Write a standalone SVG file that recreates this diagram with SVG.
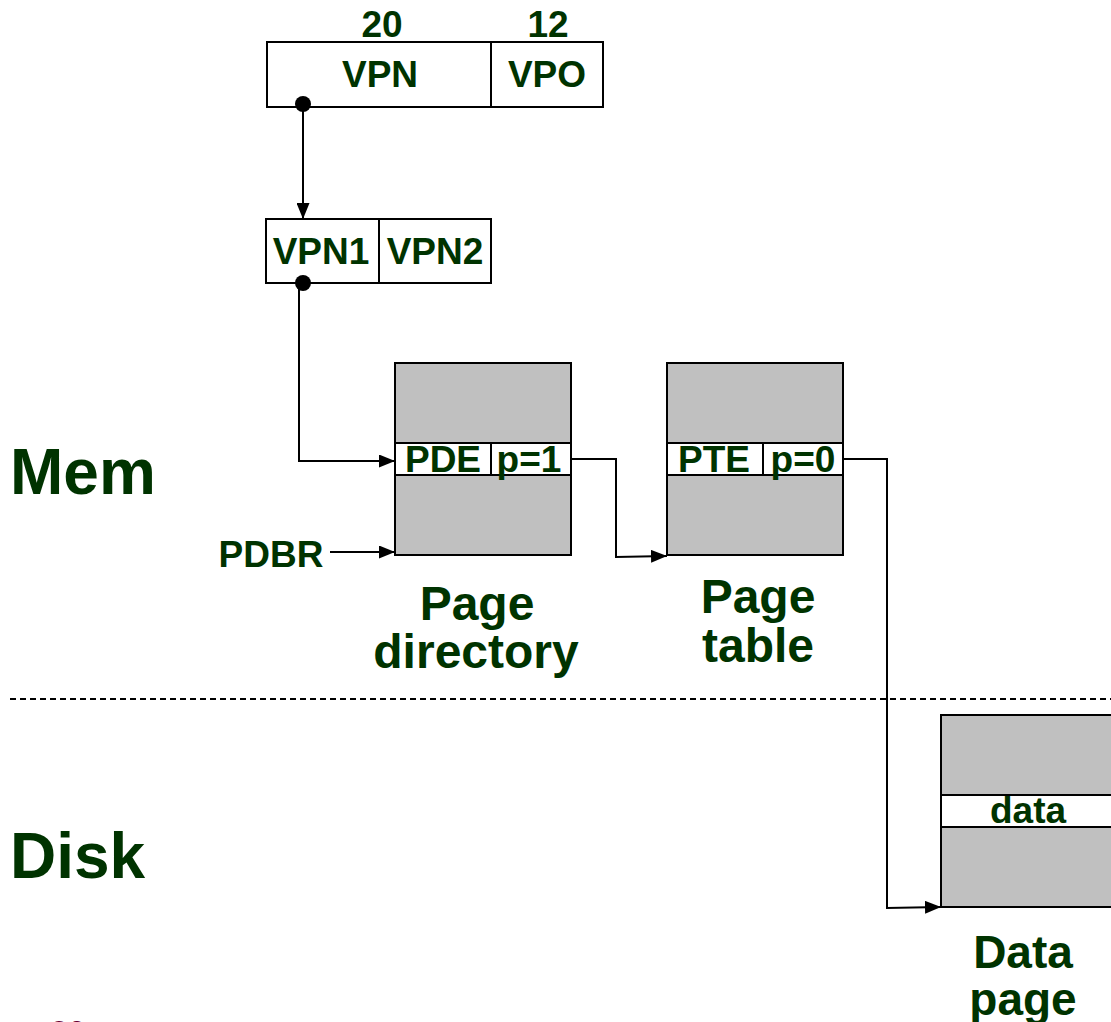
<svg xmlns="http://www.w3.org/2000/svg" width="1111" height="1022" viewBox="0 0 1111 1022">
<defs>
<marker id="ah" viewBox="0 0 16 13" refX="16" refY="6.5" markerWidth="16" markerHeight="13" markerUnits="userSpaceOnUse" orient="auto">
<path d="M0,0 L16,6.5 L0,13 z" fill="#000"/>
</marker>
<style>
text{font-family:"Liberation Sans",Arial,sans-serif;font-weight:bold;fill:#003300;text-anchor:middle}
.f{font-size:37px}
.big{font-size:64px;text-anchor:start}
.cap{font-size:48px}
.cap2{font-size:46px}
.box{fill:#fff;stroke:#000;stroke-width:2}
.pg{fill:#c0c0c0;stroke:#000;stroke-width:2}
.c{fill:none;stroke:#000;stroke-width:2}
</style>
</defs>
<rect width="1111" height="1022" fill="#fff"/>
<text class="big" x="10" y="494">Mem</text>
<text class="big" x="10" y="878">Disk</text>
<line x1="10" y1="699" x2="1111" y2="699" stroke="#000" stroke-width="2" stroke-dasharray="6,4"/>
<g id="va">
<rect class="box" x="267" y="42" width="336" height="65"/>
<line x1="491" y1="42" x2="491" y2="107" stroke="#000" stroke-width="2"/>
<text class="f" x="382" y="37">20</text>
<text class="f" x="548" y="37">12</text>
<text class="f" x="380" y="87">VPN</text>
<text class="f" x="547" y="87">VPO</text>
</g>
<g id="vpn12">
<rect class="box" x="266" y="219" width="225" height="64"/>
<line x1="379" y1="219" x2="379" y2="283" stroke="#000" stroke-width="2"/>
<text class="f" x="321" y="264">VPN1</text>
<text class="f" x="435" y="264">VPN2</text>
</g>
<g id="pd">
<rect class="pg" x="395" y="363" width="176" height="192"/>
<rect class="box" x="395" y="443" width="176" height="32"/>
<line x1="491" y1="443" x2="491" y2="475" stroke="#000" stroke-width="2"/>
<text class="f" x="443" y="472">PDE</text>
<text class="f" x="529" y="472">p=1</text>
<text class="cap" x="477" y="620">Page</text>
<text class="cap" x="476" y="668">directory</text>
</g>
<g id="pt">
<rect class="pg" x="667" y="363" width="176" height="192"/>
<rect class="box" x="667" y="443" width="176" height="32"/>
<line x1="763" y1="443" x2="763" y2="475" stroke="#000" stroke-width="2"/>
<text class="f" x="714" y="472">PTE</text>
<text class="f" x="803" y="472">p=0</text>
<text class="cap" x="758" y="613">Page</text>
<text class="cap" x="758" y="662">table</text>
</g>
<g id="dp">
<rect class="pg" x="941" y="715" width="180" height="192"/>
<rect class="box" x="941" y="795" width="180" height="32"/>
<text class="f" x="1028" y="823">data</text>
<text class="cap2" x="1023" y="968">Data</text>
<text class="cap2" x="1023" y="1015">page</text>
</g>
<g id="pdbr">
<text class="f" x="271" y="567">PDBR</text>
</g>
<g id="connectors">
<circle cx="303" cy="104" r="8" fill="#000"/>
<line class="c" x1="303" y1="104" x2="303" y2="219" marker-end="url(#ah)"/>
<circle cx="303" cy="283" r="8" fill="#000"/>
<polyline class="c" points="299,283 299,461 395,461" marker-end="url(#ah)"/>
<polyline class="c" points="571,459 616,459 616,557 667,556" marker-end="url(#ah)"/>
<polyline class="c" points="843,459 887,459 887,908 941,907" marker-end="url(#ah)"/>
<line class="c" x1="330" y1="552" x2="395" y2="552" marker-end="url(#ah)"/>
</g>
<text x="68" y="1043" style="font-size:32px;fill:#660033">20</text>
</svg>
